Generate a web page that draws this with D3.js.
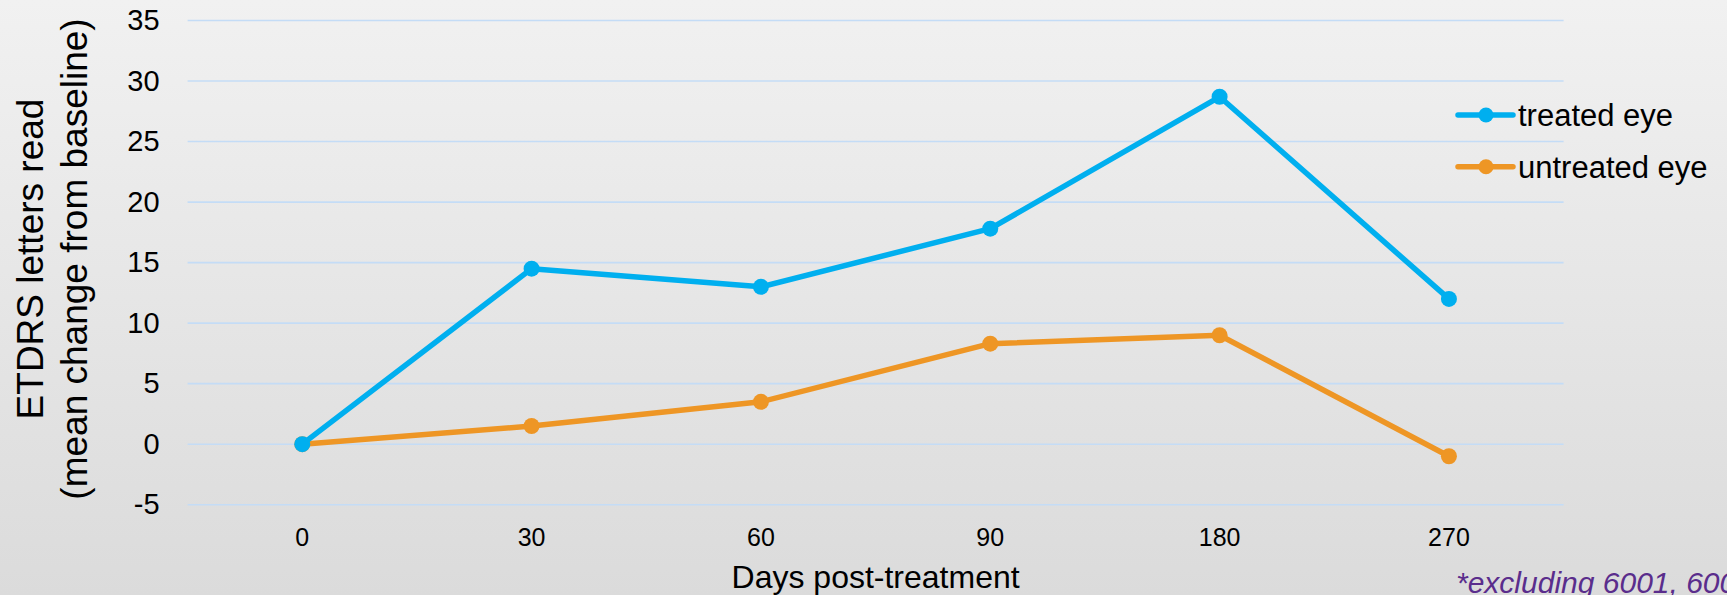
<!DOCTYPE html>
<html>
<head>
<meta charset="utf-8">
<script src="https://cdn.jsdelivr.net/npm/d3@7"></script>
<style>
  html, body { margin: 0; padding: 0; overflow: hidden; }
  svg { display: block; font-family: "Liberation Sans", Arial, sans-serif; }
</style>
</head>
<body>
<svg id="chart"></svg>
<script>
// values
var days = ["0", "30", "60", "90", "180", "270"];
var treated = [0, 14.5, 13.0, 17.8, 28.7, 12.0];
var untreated = [0, 1.5, 3.5, 8.3, 9.0, -1.0];
var yTicks = [-5, 0, 5, 10, 15, 20, 25, 30, 35];
var seriesNames = ["treated eye", "untreated eye"];
var seriesColors = ["#00AFEF", "#EE9625"];

var W = 1727, H = 595;
var plot = { left: 187.6, right: 1563.6, top: 20.5, bottom: 504.7 };

var svg = d3.select("#chart").attr("width", W).attr("height", H);

// slide background gradient
var grad = svg.append("defs").append("linearGradient")
    .attr("id", "bg").attr("x1", 0).attr("y1", 0).attr("x2", 0).attr("y2", 1);
grad.append("stop").attr("offset", "0%").attr("stop-color", "#f1f1f1");
grad.append("stop").attr("offset", "100%").attr("stop-color", "#dbdbdb");
svg.append("rect").attr("width", W).attr("height", H).attr("fill", "url(#bg)");

var x = d3.scaleBand().domain(days).range([plot.left, plot.right]).padding(0);
var y = d3.scaleLinear().domain([-5, 35]).range([plot.bottom, plot.top]);
var cx = function (d) { return x(d) + x.bandwidth() / 2; };

// gridlines
svg.append("g").selectAll("line")
    .data(yTicks)
  .enter().append("line")
    .attr("x1", plot.left).attr("x2", plot.right)
    .attr("y1", function (d) { return y(d); })
    .attr("y2", function (d) { return y(d); })
    .attr("stroke", "#c4dcf6")
    .attr("stroke-width", 1.6);

// axes (no lines, labels only); plain hyphen for negatives like the slide
var yAxis = svg.append("g")
    .attr("transform", "translate(" + plot.left + ",0)")
    .call(d3.axisLeft(y).tickValues(yTicks).tickFormat(function (d) { return String(d); })
      .tickSize(0).tickPadding(28));
yAxis.select(".domain").remove();
yAxis.selectAll("text").attr("font-size", 29).attr("fill", "#000")
    .style("font-family", "Liberation Sans, Arial, sans-serif");

var xAxis = svg.append("g")
    .attr("transform", "translate(0," + plot.bottom + ")")
    .call(d3.axisBottom(x).tickSize(0).tickPadding(23.5));
xAxis.select(".domain").remove();
xAxis.selectAll("text").attr("font-size", 25).attr("fill", "#000")
    .style("font-family", "Liberation Sans, Arial, sans-serif");

// axis titles
svg.append("text")
    .attr("x", (plot.left + plot.right) / 2).attr("y", 588)
    .attr("text-anchor", "middle").attr("font-size", 32)
    .text("Days post-treatment");

var yt = svg.append("text")
    .attr("transform", "translate(43,259) rotate(-90)")
    .attr("text-anchor", "middle").attr("font-size", 37);
yt.append("tspan").attr("x", 0).attr("y", 0).text("ETDRS letters read");
yt.append("tspan").attr("x", 0).attr("y", 44).text("(mean change from baseline)");

// series
var series = [treated, untreated].map(function (vals, i) {
  return { name: seriesNames[i], color: seriesColors[i],
    values: vals.map(function (v, j) { return { day: days[j], v: v }; }) };
});

var line = d3.line()
    .x(function (d) { return cx(d.day); })
    .y(function (d) { return y(d.v); });

var sg = svg.selectAll(".series")
    .data(series.slice().reverse())
  .enter().append("g").attr("class", "series");

sg.append("path")
    .attr("d", function (s) { return line(s.values); })
    .attr("fill", "none")
    .attr("stroke", function (s) { return s.color; })
    .attr("stroke-width", 5.5)
    .attr("stroke-linejoin", "round");

sg.selectAll("circle")
    .data(function (s) { return s.values.map(function (d) { return { d: d, c: s.color }; }); })
  .enter().append("circle")
    .attr("cx", function (p) { return cx(p.d.day); })
    .attr("cy", function (p) { return y(p.d.v); })
    .attr("r", 8)
    .attr("fill", function (p) { return p.c; });

// legend
var leg = svg.append("g").selectAll("g")
    .data(series)
  .enter().append("g")
    .attr("transform", function (s, i) { return "translate(1458," + (115 + i * 51.7) + ")"; });
leg.append("line")
    .attr("x1", 0).attr("x2", 55)
    .attr("stroke", function (s) { return s.color; })
    .attr("stroke-width", 5.5).attr("stroke-linecap", "round");
leg.append("circle").attr("cx", 28).attr("r", 7.5)
    .attr("fill", function (s) { return s.color; });
leg.append("text")
    .attr("x", 60).attr("y", 11)
    .attr("font-size", 31)
    .text(function (s) { return s.name; });

// footnote, runs off the right edge like the slide
svg.append("text")
    .attr("x", 1456).attr("y", 593)
    .attr("font-size", 30).attr("font-style", "italic")
    .attr("fill", "#5a2d8c")
    .text("*excluding 6001, 6002");
</script>
</body>
</html>
